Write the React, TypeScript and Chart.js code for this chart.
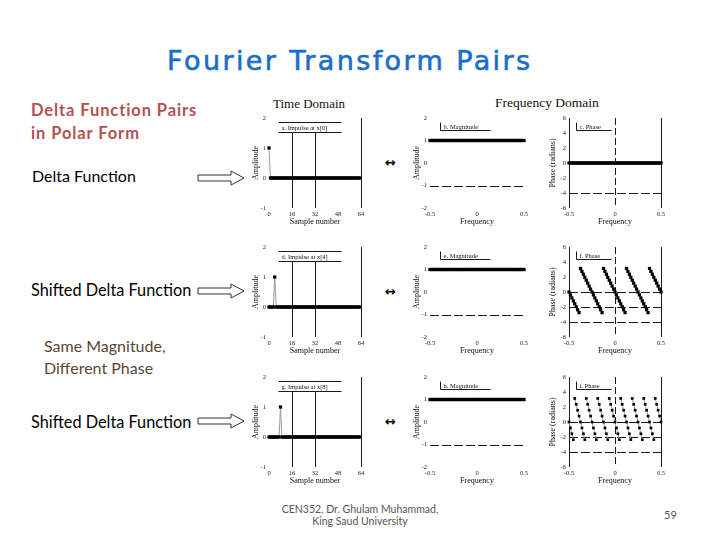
import React, { useEffect, useRef } from 'react';
import { Chart, registerables } from 'chart.js';

Chart.register(...registerables);

// ---------- data ----------
const timeTickValues = [0, 16, 32, 48, 64];
const timeTickLabels = ['0', '16', '32', '48', '64'];
const freqTickValues = [0, 32, 64];
const freqTickLabels = ['-0.5', '0', '0.5'];
const ampTickValues = [-1, 0, 1, 2];
const magTickValues = [-2, -1, 0, 1, 2];
const phaseTickValues = [-6, -4, -2, 0, 2, 4, 6];

// time-domain signals (64 samples)
const signalA = [
  1, 0, 0, 0, 0, 0, 0, 0, 0, 0, 0, 0, 0, 0, 0, 0,
  0, 0, 0, 0, 0, 0, 0, 0, 0, 0, 0, 0, 0, 0, 0, 0,
  0, 0, 0, 0, 0, 0, 0, 0, 0, 0, 0, 0, 0, 0, 0, 0,
  0, 0, 0, 0, 0, 0, 0, 0, 0, 0, 0, 0, 0, 0, 0, 0,
];
const signalD = [
  0, 0, 0, 0, 1, 0, 0, 0, 0, 0, 0, 0, 0, 0, 0, 0,
  0, 0, 0, 0, 0, 0, 0, 0, 0, 0, 0, 0, 0, 0, 0, 0,
  0, 0, 0, 0, 0, 0, 0, 0, 0, 0, 0, 0, 0, 0, 0, 0,
  0, 0, 0, 0, 0, 0, 0, 0, 0, 0, 0, 0, 0, 0, 0, 0,
];
const signalG = [
  0, 0, 0, 0, 0, 0, 0, 0, 1, 0, 0, 0, 0, 0, 0, 0,
  0, 0, 0, 0, 0, 0, 0, 0, 0, 0, 0, 0, 0, 0, 0, 0,
  0, 0, 0, 0, 0, 0, 0, 0, 0, 0, 0, 0, 0, 0, 0, 0,
  0, 0, 0, 0, 0, 0, 0, 0, 0, 0, 0, 0, 0, 0, 0, 0,
];

// magnitudes (65 frequency samples, -0.5 .. 0.5)
const magnitudeAll = [
  1, 1, 1, 1, 1, 1, 1, 1, 1, 1, 1, 1, 1, 1, 1, 1,
  1, 1, 1, 1, 1, 1, 1, 1, 1, 1, 1, 1, 1, 1, 1, 1,
  1, 1, 1, 1, 1, 1, 1, 1, 1, 1, 1, 1, 1, 1, 1, 1,
  1, 1, 1, 1, 1, 1, 1, 1, 1, 1, 1, 1, 1, 1, 1, 1,
  1,
];

// phases (65 frequency samples, -0.5 .. 0.5)
const phaseA = [
  0, 0, 0, 0, 0, 0, 0, 0, 0, 0, 0, 0, 0, 0, 0, 0,
  0, 0, 0, 0, 0, 0, 0, 0, 0, 0, 0, 0, 0, 0, 0, 0,
  0, 0, 0, 0, 0, 0, 0, 0, 0, 0, 0, 0, 0, 0, 0, 0,
  0, 0, 0, 0, 0, 0, 0, 0, 0, 0, 0, 0, 0, 0, 0, 0,
  0,
];
const phaseD = [
  0, -0.39, -0.79, -1.18, -1.57, -1.96, -2.36, -2.75, 3.14, 2.75, 2.36, 1.96, 1.57, 1.18, 0.79, 0.39,
  0, -0.39, -0.79, -1.18, -1.57, -1.96, -2.36, -2.75, 3.14, 2.75, 2.36, 1.96, 1.57, 1.18, 0.79, 0.39,
  0, -0.39, -0.79, -1.18, -1.57, -1.96, -2.36, -2.75, 3.14, 2.75, 2.36, 1.96, 1.57, 1.18, 0.79, 0.39,
  0, -0.39, -0.79, -1.18, -1.57, -1.96, -2.36, -2.75, 3.14, 2.75, 2.36, 1.96, 1.57, 1.18, 0.79, 0.39,
  0,
];
const phaseG = [
  0, -0.79, -1.57, -2.36, 3.14, 2.36, 1.57, 0.79, 0, -0.79, -1.57, -2.36, 3.14, 2.36, 1.57, 0.79,
  0, -0.79, -1.57, -2.36, 3.14, 2.36, 1.57, 0.79, 0, -0.79, -1.57, -2.36, 3.14, 2.36, 1.57, 0.79,
  0, -0.79, -1.57, -2.36, 3.14, 2.36, 1.57, 0.79, 0, -0.79, -1.57, -2.36, 3.14, 2.36, 1.57, 0.79,
  0, -0.79, -1.57, -2.36, 3.14, 2.36, 1.57, 0.79, 0, -0.79, -1.57, -2.36, 3.14, 2.36, 1.57, 0.79,
  0,
];

const timeLabels = ['a. Impulse at x[0]', 'd. Impulse at x[4]', 'g. Impulse at x[8]'];
const magLabels = ['b. Magnitude', 'e. Magnitude', 'h. Magnitude'];
const phaseLabels = ['c. Phase', 'f. Phase', 'i. Phase'];
const timeSignals = [signalA, signalD, signalG];
const magSignals = [magnitudeAll, magnitudeAll, magnitudeAll];
const phaseSignals = [phaseA, phaseD, phaseG];

// ---------- layout ----------
const ROW_TOP = [118, 247, 377];
const PLOT_H = 90;
const PAD_T = 6;
const PAD_R = 6;
const XAXIS_H = 19;
const SERIF = '"Liberation Serif", "DejaVu Serif", serif';

type Kind = 'time' | 'mag' | 'phase';
const PLOT: Record<Kind, { left: number; width: number; axisW: number }> = {
  time: { left: 269, width: 92, axisW: 18 },
  mag: { left: 430, width: 94, axisW: 18 },
  phase: { left: 569, width: 92, axisW: 21 },
};

const decorPlugin = {
  id: 'decor',
  beforeDatasetsDraw(chart: any, _args: any, opts: any) {
    const { ctx, scales } = chart;
    const x = scales.x;
    const y = scales.y;
    ctx.save();
    ctx.strokeStyle = '#1a1a1a';
    ctx.lineWidth = 1;
    (opts.vlines || []).forEach((l: any) => {
      ctx.setLineDash(l.dash || []);
      const px = Math.round(x.getPixelForValue(l.x)) + 0.5;
      ctx.beginPath();
      ctx.moveTo(px, y.getPixelForValue(l.from !== undefined ? l.from : y.max));
      ctx.lineTo(px, y.getPixelForValue(l.to !== undefined ? l.to : y.min));
      ctx.stroke();
    });
    (opts.hlines || []).forEach((l: any) => {
      ctx.setLineDash(l.dash || []);
      const py = Math.round(y.getPixelForValue(l.y)) + 0.5;
      ctx.beginPath();
      ctx.moveTo(x.getPixelForValue(x.min), py);
      ctx.lineTo(x.getPixelForValue(x.max), py);
      ctx.stroke();
    });
    ctx.setLineDash([]);
    const b = opts.box;
    if (b) {
      const x0 = Math.round(x.getPixelForValue(b.x0)) + 0.5;
      const x1 = Math.round(x.getPixelForValue(b.x1)) + 0.5;
      const y0 = Math.round(y.getPixelForValue(b.y0)) + 0.5;
      const y1 = Math.round(y.getPixelForValue(b.y1)) + 0.5;
      ctx.fillStyle = '#fff';
      ctx.fillRect(x0, y0, x1 - x0, y1 - y0);
      ctx.beginPath();
      if (b.style === 'tb') {
        ctx.moveTo(x0, y0); ctx.lineTo(x1, y0);
        ctx.moveTo(x0, y1); ctx.lineTo(x1, y1);
      } else {
        ctx.moveTo(x0, y0); ctx.lineTo(x0, y1); ctx.lineTo(x1, y1);
      }
      ctx.stroke();
      ctx.fillStyle = '#111';
      ctx.font = `6.5px ${SERIF}`;
      ctx.textBaseline = 'middle';
      ctx.fillText(b.text, x0 + 3, (y0 + y1) / 2 + 0.5);
    }
    ctx.restore();
  },
};

type Spec = {
  kind: Kind;
  row: number;
  values: number[];
  label: string;
};

function buildConfig(spec: Spec): any {
  const { kind, values, label } = spec;
  const p = PLOT[kind];
  const pts = values.map((v, i) => ({ x: i, y: v }));
  let xTicks = timeTickValues, xLabels = timeTickLabels, xMax = 64, xTitle = 'Sample number';
  let yTicks = ampTickValues, yMin = -1, yMax = 2, yTitle = 'Amplitude';
  let decor: any = {};
  let pointR = 2.3;
  if (kind === 'time') {
    decor = {
      vlines: [
        { x: 16, from: 1.87, to: -1 },
        { x: 32, from: 1.87, to: -1 },
        { x: 64 },
      ],
      box: { x0: 6.3, x1: 50, y0: 1.87, y1: 1.53, style: 'tb', text: label },
    };
  } else if (kind === 'mag') {
    xTicks = freqTickValues; xLabels = freqTickLabels; xTitle = 'Frequency';
    yTicks = magTickValues; yMin = -2; yMax = 2;
    decor = {
      hlines: [{ y: -1, dash: [9, 3] }],
      box: { x0: 6.8, x1: 40.9, y0: 1.82, y1: 1.47, style: 'lb', text: label },
    };
  } else {
    xTicks = freqTickValues; xLabels = freqTickLabels; xTitle = 'Frequency';
    yTicks = phaseTickValues; yMin = -6; yMax = 6; yTitle = 'Phase (radians)';
    const hl = spec.row === 0 ? [0, -4] : [0, -2, -4];
    decor = {
      vlines: [{ x: 0 }, { x: 32, dash: [7, 3] }, { x: 64 }],
      hlines: hl.map((v) => ({ y: v, dash: [9, 3] })),
      box: { x0: 4.9, x1: 29.2, y0: 5.47, y1: 4.4, style: 'lb', text: label },
    };
    if (spec.row === 2) pointR = 1.9;
  }
  const tickFont = { family: SERIF, size: 6.5 };
  const titleFont = { family: SERIF, size: 8 };
  return {
    type: 'line',
    data: {
      datasets: [
        {
          data: pts,
          borderColor: '#9a9a9a',
          borderWidth: 1,
          pointStyle: 'rect',
          pointRadius: pointR,
          pointBackgroundColor: '#000',
          pointBorderColor: '#000',
          pointBorderWidth: 0,
          clip: 4,
          segment: {
            borderColor: (c: any) =>
              Math.abs(c.p0.parsed.y - c.p1.parsed.y) > 4 ? 'rgba(0,0,0,0)' : '#9a9a9a',
          },
        },
      ],
    },
    options: {
      animation: false,
      responsive: false,
      maintainAspectRatio: false,
      events: [],
      layout: { padding: { top: PAD_T, right: PAD_R, left: 0, bottom: 2 } },
      plugins: { legend: { display: false }, tooltip: { enabled: false }, decor },
      scales: {
        x: {
          type: 'linear',
          min: 0,
          max: xMax,
          grid: { display: false, drawTicks: false },
          border: { display: false },
          afterBuildTicks: (s: any) => {
            s.ticks = xTicks.map((v) => ({ value: v }));
          },
          ticks: {
            font: tickFont,
            color: '#222',
            padding: 2,
            maxRotation: 0,
            autoSkip: false,
            callback: (v: number) => {
              const i = xTicks.indexOf(v);
              return i >= 0 ? xLabels[i] : '';
            },
          },
          title: { display: true, text: xTitle, font: titleFont, color: '#111', padding: 0 },
          afterFit: (s: any) => {
            s.height = XAXIS_H;
            s.paddingLeft = 0;
            s.paddingRight = 0;
          },
        },
        y: {
          type: 'linear',
          min: yMin,
          max: yMax,
          grid: { display: false, drawTicks: false },
          border: { display: false },
          afterBuildTicks: (s: any) => {
            s.ticks = yTicks.map((v) => ({ value: v }));
          },
          ticks: { font: tickFont, color: '#222', padding: 3, autoSkip: false },
          title: { display: true, text: yTitle, font: titleFont, color: '#111', padding: 0 },
          afterFit: (s: any) => {
            s.width = p.axisW;
            s.paddingTop = 0;
            s.paddingBottom = 0;
          },
        },
      },
    },
    plugins: [decorPlugin],
  };
}

function MiniChart({ spec }: { spec: Spec }) {
  const ref = useRef<HTMLCanvasElement>(null);
  const p = PLOT[spec.kind];
  const left = p.left - p.axisW;
  const top = ROW_TOP[spec.row] - PAD_T;
  const w = p.axisW + p.width + PAD_R;
  const h = PAD_T + PLOT_H + XAXIS_H + 2;
  useEffect(() => {
    const chart = new Chart(ref.current as HTMLCanvasElement, buildConfig(spec));
    return () => chart.destroy();
  }, []);
  return (
    <canvas
      ref={ref}
      width={w}
      height={h}
      style={{ position: 'absolute', left, top, width: w, height: h }}
    />
  );
}

function Arrow({ cy }: { cy: number }) {
  const x0 = 198, x1 = 231, x2 = 244;
  return (
    <svg
      style={{ position: 'absolute', left: 0, top: 0 }}
      width={720}
      height={540}
    >
      <polygon
        points={`${x0},${cy - 3} ${x1},${cy - 3} ${x1},${cy - 7} ${x2},${cy} ${x1},${cy + 7} ${x1},${cy + 3} ${x0},${cy + 3}`}
        fill="#fff"
        stroke="#333"
        strokeWidth={1}
      />
    </svg>
  );
}

function Txt({
  x, cy, size, color, family, weight, children, spacing, align, stroke,
}: any) {
  const lh = Math.round(size * 1.3);
  return (
    <div
      style={{
        position: 'absolute',
        left: align === 'center' ? x - 200 : x,
        width: align === 'center' ? 400 : undefined,
        textAlign: align === 'center' ? 'center' : 'left',
        top: cy - lh / 2,
        height: lh,
        lineHeight: `${lh}px`,
        fontSize: size,
        color,
        fontFamily: family,
        fontWeight: weight || 400,
        letterSpacing: spacing || 0,
        whiteSpace: 'nowrap',
        WebkitTextStroke: stroke ? `${stroke}px ${color}` : undefined,
      }}
    >
      {children}
    </div>
  );
}

const LATO = 'Lato, "Open Sans", sans-serif';

export default function App() {
  const specs: Spec[] = [];
  for (let r = 0; r < 3; r++) {
    specs.push({ kind: 'time', row: r, values: timeSignals[r], label: timeLabels[r] });
    specs.push({ kind: 'mag', row: r, values: magSignals[r], label: magLabels[r] });
    specs.push({ kind: 'phase', row: r, values: phaseSignals[r], label: phaseLabels[r] });
  }
  const arrowRows = [178, 291, 421];
  const swapRows = [162, 291, 421];
  return (
    <div
      style={{
        position: 'fixed', left: 0, top: 0, width: 720, height: 540,
        background: '#fff', overflow: 'hidden',
      }}
    >
      <Txt x={167} cy={60} size={27} color="#1a6ec8" family='"DejaVu Sans", sans-serif' spacing={2.4} stroke={0.6}>
        Fourier Transform Pairs
      </Txt>
      <Txt x={31} cy={110} size={16.5} color="#b3514f" family={LATO} weight={700} spacing={0.9}>Delta Function Pairs</Txt>
      <Txt x={31} cy={133} size={16.5} color="#b3514f" family={LATO} weight={700} spacing={0.9}>in Polar Form</Txt>
      <Txt x={32} cy={175} size={16} color="#000" family={LATO}>Delta Function</Txt>
      <Txt x={31} cy={289} size={16.3} color="#000" family={LATO}>Shifted Delta Function</Txt>
      <Txt x={44} cy={345} size={16} color="#5b4636" family={LATO}>Same Magnitude,</Txt>
      <Txt x={44} cy={367} size={16} color="#5b4636" family={LATO}>Different Phase</Txt>
      <Txt x={31} cy={421} size={16.3} color="#000" family={LATO}>Shifted Delta Function</Txt>

      <Txt x={273} cy={103} size={13} color="#111" family={SERIF}>Time Domain</Txt>
      <Txt x={495} cy={103} size={13.5} color="#111" family={SERIF}>Frequency Domain</Txt>

      {arrowRows.map((cy, i) => (
        <Arrow key={i} cy={cy} />
      ))}
      {swapRows.map((cy, i) => (
        <Txt key={'s' + i} x={385} cy={cy} size={13} color="#000" family='"DejaVu Sans", sans-serif' weight={700}>
          ↔
        </Txt>
      ))}

      {specs.map((s, i) => (
        <MiniChart key={i} spec={s} />
      ))}

      <Txt x={360} cy={509} size={10.5} color="#555" family={LATO} align="center">CEN352, Dr. Ghulam Muhammad,</Txt>
      <Txt x={360} cy={521} size={10.5} color="#555" family={LATO} align="center">King Saud University</Txt>
      <Txt x={664} cy={515} size={11} color="#555" family={LATO}>59</Txt>
    </div>
  );
}
